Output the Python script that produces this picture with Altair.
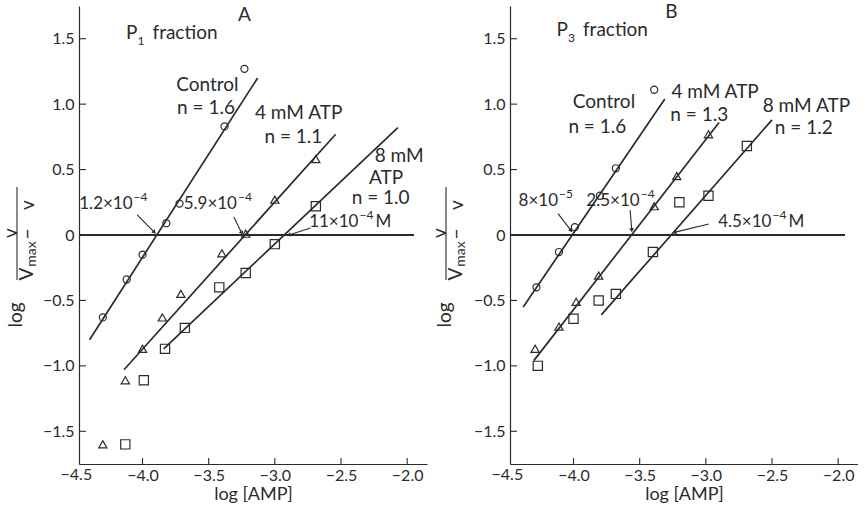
import math
import altair as alt
import pandas as pd

FONT = "Lato"
INK = "#2b2b2b"
W, H = 348, 458
XDOM = [-4.48, -1.85]
YDOM = [-1.75, 1.75]
SX = W / (XDOM[1] - XDOM[0])
SY = H / (YDOM[1] - YDOM[0])

X_TICKS = [-4.0, -3.5, -3.0, -2.5, -2.0]
X_EDGE_LABEL = [-4.5]
Y_TICKS = [-1.5, -1.0, -0.5, 0.0, 0.5, 1.0, 1.5]
SERIES = ["Control", "4 mM ATP", "8 mM ATP"]

# ---------------- Panel A (P1 fraction) ----------------
a_ctrl_x = [-4.30, -4.12, -4.00, -3.82, -3.72, -3.38, -3.23]
a_ctrl_y = [-0.63, -0.34, -0.15, 0.09, 0.24, 0.83, 1.27]
a_atp4_x = [-4.30, -4.13, -4.00, -3.85, -3.71, -3.40, -3.22, -3.00, -2.69]
a_atp4_y = [-1.60, -1.11, -0.87, -0.63, -0.45, -0.14, 0.01, 0.27, 0.58]
a_atp8_x = [-4.13, -3.99, -3.83, -3.68, -3.42, -3.22, -3.00, -2.69]
a_atp8_y = [-1.60, -1.11, -0.87, -0.71, -0.40, -0.29, -0.07, 0.22]
# fitted lines: [x_start, x_end], [y_start, y_end]
a_fit_ctrl = ([-4.40, -3.13], [-0.80, 1.20])
a_fit_atp4 = ([-4.14, -2.54], [-1.03, 0.77])
a_fit_atp8 = ([-3.84, -2.07], [-0.87, 0.82])

a_label_text = ["Control", "n = 1.6", "4 mM ATP", "n = 1.1", "8 mM", "ATP", "n = 1.0", "A"]
a_label_x = [-3.51, -3.52, -2.82, -2.86, -2.06, -2.16, -2.20, -3.23]
a_label_y = [1.145, 0.97, 0.93, 0.75, 0.605, 0.435, 0.285, 1.68]
# K values: base text, superscript, trailing unit, anchor
a_k_base = ["1.2×10", "5.9×10", "11×10"]
a_k_sup = ["−4", "−4", "−4"]
a_k_unit = ["", "", "M"]
a_k_x = [-4.075, -3.286, -2.368]
a_k_y = [0.237, 0.237, 0.10]
a_lead_x = [[-4.04, -3.91], [-3.31, -3.25], [-2.73, -2.895]]
a_lead_y = [[0.153, 0.02], [0.137, 0.015], [0.053, 0.0]]
a_frac = ("P", "1", "fraction", -4.038, 1.546)

# ---------------- Panel B (P3 fraction) ----------------
b_ctrl_x = [-4.28, -4.11, -3.99, -3.80, -3.68, -3.39]
b_ctrl_y = [-0.40, -0.13, 0.06, 0.30, 0.51, 1.11]
b_atp4_x = [-4.29, -4.11, -3.98, -3.81, -3.39, -3.22, -2.98]
b_atp4_y = [-0.87, -0.70, -0.51, -0.31, 0.22, 0.45, 0.77]
b_atp8_x = [-4.27, -4.00, -3.81, -3.68, -3.40, -3.20, -2.98, -2.69]
b_atp8_y = [-1.00, -0.64, -0.50, -0.45, -0.13, 0.25, 0.30, 0.68]
b_fit_ctrl = ([-4.38, -3.31], [-0.55, 1.04])
b_fit_atp4 = ([-4.30, -2.90], [-0.96, 0.86])
b_fit_atp8 = ([-3.79, -2.50], [-0.61, 0.88])

b_label_text = ["Control", "n = 1.6", "4 mM ATP", "n = 1.3", "8 mM ATP", "n = 1.2", "B"]
b_label_x = [-3.77, -3.82, -2.93, -3.05, -2.24, -2.26, -3.26]
b_label_y = [1.017, 0.825, 1.093, 0.917, 0.985, 0.82, 1.706]
b_k_base = ["8×10", "2.5×10", "4.5×10"]
b_k_sup = ["−5", "−4", "−4"]
b_k_unit = ["", "", "M"]
b_k_x = [-4.117, -3.50, -2.504]
b_k_y = [0.258, 0.258, 0.097]
b_lead_x = [[-4.117, -4.018], [-3.572, -3.56], [-2.978, -3.238]]
b_lead_y = [[0.163, 0.034], [0.19, 0.036], [0.084, 0.02]]
b_frac = ("P", "3", "fraction", -4.042, 1.566)

XAXIS = alt.Axis(values=X_TICKS, format=".1f", title="log [AMP]", ticks=False, grid=False,
                 labelFlush=False, labelPadding=3, titlePadding=2,
                 domainColor=INK, domainWidth=1.2)
YAXIS = alt.Axis(values=Y_TICKS, ticks=False, title=None, labelPadding=5, grid=False,
                 labelExpr="datum.value == 0 ? '0' : format(datum.value, '.1f')",
                 domainColor=INK, domainWidth=1.2)


def xs():
    return alt.X("x:Q", scale=alt.Scale(domain=XDOM, nice=False, zero=False), axis=XAXIS)


def ys():
    return alt.Y("y:Q", scale=alt.Scale(domain=YDOM, nice=False, zero=False), axis=YAXIS)


def panel(pts, fits, lab_t, lab_x, lab_y, k_base, k_sup, k_unit, k_x, k_y,
          lead_x, lead_y, frac, shift):
    rows = []
    for s, (px, py) in zip(SERIES, pts):
        for a, b in zip(px, py):
            rows.append({"x": a, "y": b, "s": s})
    pdf = pd.DataFrame(rows)

    frows = []
    for s, (fx, fy) in zip(SERIES, fits):
        for a, b in zip(fx, fy):
            frows.append({"x": a, "y": b, "s": s})
    fdf = pd.DataFrame(frows)

    ldf = pd.DataFrame({"x": lab_x, "y": lab_y, "t": lab_t})
    kdf = pd.DataFrame({"x": k_x, "y": k_y, "b": k_base, "p": k_sup, "u": k_unit})

    lrows, heads = [], []
    for i, (lx, ly) in enumerate(zip(lead_x, lead_y)):
        for a, b in zip(lx, ly):
            lrows.append({"x": a, "y": b, "k": i})
        dxp = (lx[1] - lx[0]) * SX
        dyp = -(ly[1] - ly[0]) * SY
        ang = math.degrees(math.atan2(dxp, -dyp)) % 360
        heads.append({"x": lx[1], "y": ly[1], "a": ang})
    leadf = pd.DataFrame(lrows)
    headf = pd.DataFrame(heads)
    fr = pd.DataFrame({"x": [frac[3]], "y": [frac[4]]})
    edge = pd.DataFrame({"x": X_EDGE_LABEL, "t": ["−4.5"]})

    points = alt.Chart(pdf).mark_point(filled=False, strokeWidth=1.2, color=INK, opacity=1).encode(
        x=xs(), y=ys(),
        shape=alt.Shape("s:N", scale=alt.Scale(domain=SERIES, range=["circle", "triangle-up", "square"]), legend=None),
        size=alt.Size("s:N", scale=alt.Scale(domain=SERIES, range=[50, 85, 64]), legend=None),
    )
    fitl = alt.Chart(fdf).mark_line(color=INK, strokeWidth=1.7).encode(x=xs(), y=ys(), detail="s:N")
    zero = alt.Chart(pdf).mark_rule(color=INK, strokeWidth=1.1).encode(
        x=alt.datum(XDOM[0], scale=alt.Scale(domain=XDOM, nice=False, zero=False), axis=XAXIS),
        x2=alt.datum(-1.95), y=alt.datum(0, scale=alt.Scale(domain=YDOM, nice=False, zero=False), axis=YAXIS))
    yt = alt.Chart(pd.DataFrame({"y": Y_TICKS})).mark_rule(color=INK, strokeWidth=1.1).encode(
        y=ys(), x=alt.value(0), x2=alt.value(7))
    xt = alt.Chart(pd.DataFrame({"x": X_TICKS})).mark_rule(color=INK, strokeWidth=1.1).encode(
        x=xs(), y=alt.value(H), y2=alt.value(H - 6))
    edge_lbl = alt.Chart(edge).mark_text(font=FONT, fontSize=16, color=INK, align="center",
                                         baseline="top").encode(x=xs(), y=alt.value(H + 3), text="t:N")

    labels = alt.Chart(ldf).mark_text(font=FONT, fontSize=19, color=INK, align="center",
                                      baseline="middle").encode(x=xs(), y=ys(), text="t:N")
    kb = alt.Chart(kdf).mark_text(font=FONT, fontSize=17, color=INK, align="right",
                                  baseline="middle").encode(x=xs(), y=ys(), text="b:N")
    ks = alt.Chart(kdf).mark_text(font=FONT, fontSize=12, color=INK, align="left",
                                  baseline="middle", dx=1, dy=-7).encode(x=xs(), y=ys(), text="p:N")
    ku = alt.Chart(kdf).mark_text(font=FONT, fontSize=17, color=INK, align="left",
                                  baseline="middle", dx=17).encode(x=xs(), y=ys(), text="u:N")
    leads = alt.Chart(leadf).mark_line(color=INK, strokeWidth=1.1).encode(x=xs(), y=ys(), detail="k:N")
    arrows = alt.Chart(headf).mark_point(shape="triangle-up", filled=True, size=22, color=INK,
                                         opacity=1).encode(x=xs(), y=ys(), angle=alt.Angle("a:Q", scale=None))

    fP = alt.Chart(fr).mark_text(text=frac[0], font=FONT, fontSize=19, color=INK, align="right",
                                 baseline="middle").encode(x=xs(), y=ys())
    fS = alt.Chart(fr).mark_text(text=frac[1], font=FONT, fontSize=12, color=INK, align="left",
                                 baseline="middle", dx=0, dy=8).encode(x=xs(), y=ys())
    fT = alt.Chart(fr).mark_text(text=frac[2], font=FONT, fontSize=19, color=INK, align="left",
                                 baseline="middle", dx=15).encode(x=xs(), y=ys())

    # y-axis title: log  v / (V_max - v)
    def rt(txt, px, py, size=19):
        return alt.Chart(fr).mark_text(text=txt, font=FONT, fontSize=size, color=INK, angle=270,
                                       align="center", baseline="middle").encode(
            x=alt.value(px + shift), y=alt.value(py))

    t_num = rt("v", -68, 227)
    t_V = rt("V", -52, 268)
    t_max = rt("max", -47, 248, 14)
    t_minus = rt("−", -51, 228)
    t_v2 = rt("v", -51, 199)
    t_log = rt("log", -63, 309)
    fline = alt.Chart(fr).mark_rule(color=INK, strokeWidth=1.1).encode(
        x=alt.value(-62 + shift), y=alt.value(181), y2=alt.value(274))

    return alt.layer(points, fitl, zero, yt, xt, edge_lbl, labels, kb, ks, ku, leads, arrows,
                     fP, fS, fT, t_num, t_V, t_max, t_minus, t_v2, t_log, fline).properties(width=W, height=H)


pA = panel([(a_ctrl_x, a_ctrl_y), (a_atp4_x, a_atp4_y), (a_atp8_x, a_atp8_y)],
           [a_fit_ctrl, a_fit_atp4, a_fit_atp8],
           a_label_text, a_label_x, a_label_y, a_k_base, a_k_sup, a_k_unit, a_k_x, a_k_y,
           a_lead_x, a_lead_y, a_frac, 0)
pB = panel([(b_ctrl_x, b_ctrl_y), (b_atp4_x, b_atp4_y), (b_atp8_x, b_atp8_y)],
           [b_fit_ctrl, b_fit_atp4, b_fit_atp8],
           b_label_text, b_label_x, b_label_y, b_k_base, b_k_sup, b_k_unit, b_k_x, b_k_y,
           b_lead_x, b_lead_y, b_frac, -2)

chart = alt.hconcat(pA, pB, spacing=4).properties(
    padding={"left": 2, "top": 2, "right": 0, "bottom": 0},
    background="white",
).configure_view(stroke=None).configure_axis(
    grid=False, labelFont=FONT, labelFontSize=16, labelColor=INK, titleFont=FONT,
    titleFontSize=18, titleColor=INK, titleFontWeight="normal"
)

chart.save("out.html", embed_options={"renderer": "svg", "actions": False})
